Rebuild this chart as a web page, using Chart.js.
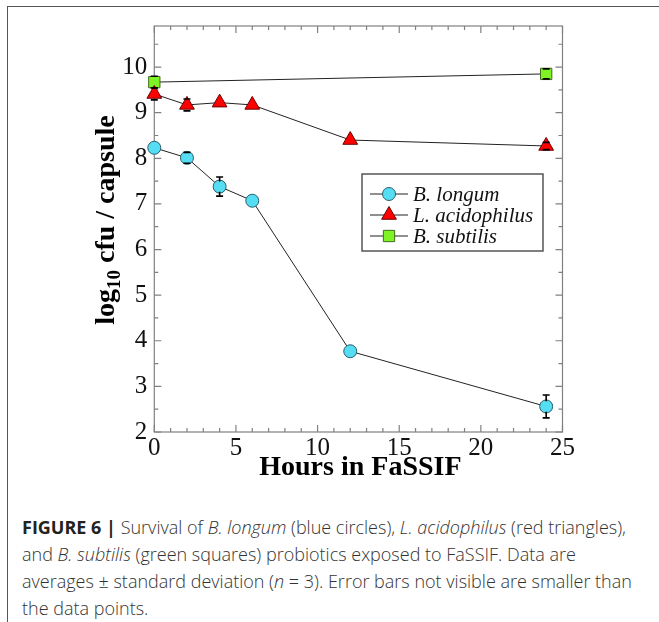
<!DOCTYPE html>
<html><head><meta charset="utf-8">
<script src="https://cdn.jsdelivr.net/npm/chart.js@4/dist/chart.umd.min.js"></script>
<style>
html,body{margin:0;padding:0;background:#fff;width:659px;height:622px;overflow:hidden;position:relative}
#frameTop{position:absolute;left:7px;top:6px;width:652px;height:0;border-top:1.5px solid #555}
#frameLeft{position:absolute;left:7px;top:6px;width:0;height:616px;border-left:1.5px solid #555}
#wrap{position:absolute;left:0;top:0;width:659px;height:500px}
#caption{position:absolute;left:22px;top:514px;width:640px;font-family:'Open Sans',sans-serif;font-weight:300;font-size:18px;line-height:27px;color:#333;white-space:nowrap}
#caption b{font-weight:700;color:#222}
</style></head>
<body>
<div id="frameTop"></div><div id="frameLeft"></div>
<div id="wrap"><canvas id="c" width="659" height="500"></canvas></div>
<div id="caption"><b>FIGURE 6 |</b> Survival of <i>B. longum</i> (blue circles), <i>L. acidophilus</i> (red triangles),<br>and <i>B. subtilis</i> (green squares) probiotics exposed to FaSSIF. Data are<br>averages ± standard deviation (<i>n</i> = 3). Error bars not visible are smaller than<br>the data points.</div>
<script>
// ---- data ----
const hours = [0, 2, 4, 6, 12, 24];
const longum = [8.23, 8.01, 7.38, 7.07, 3.77, 2.56];
const longumErr = [0, 0.12, 0.21, 0, 0, 0.25];
const acidophilus = [9.41, 9.17, 9.22, 9.17, 8.40, 8.27];
const acidophilusErr = [0.13, 0.13, 0, 0, 0, 0.08];
const subtilisHours = [0, 24];
const subtilis = [9.67, 9.85];
const subtilisErr = [0.13, 0.11];
const seriesNames = ['B. longum', 'L. acidophilus', 'B. subtilis'];
const xTicks = [0, 5, 10, 15, 20, 25];
const yTicks = [2, 3, 4, 5, 6, 7, 8, 9, 10];
const xTitle = 'Hours in FaSSIF';
const yTitleParts = ['log', '10', ' cfu / capsule'];

const toPts = (xs, ys) => xs.map((x, i) => ({x: x, y: ys[i]}));

const serif = "'Liberation Serif', 'Times New Roman', serif";

const errPlugin = {
  id: 'errbars',
  afterDatasetsDraw(chart) {
    const ctx = chart.ctx, xs = chart.scales.x, ys = chart.scales.y;
    ctx.save();
    ctx.strokeStyle = '#000'; ctx.lineWidth = 1.6;
    chart.data.datasets.forEach(ds => {
      ds.data.forEach((p, i) => {
        const e = ds.errors[i];
        if (!e) return;
        const px = xs.getPixelForValue(p.x);
        const pc = ys.getPixelForValue(p.y);
        const y1 = ys.getPixelForValue(p.y + e), y0 = ys.getPixelForValue(p.y - e);
        const half = ds.pointRadius * 0.8;
        ctx.beginPath();
        if (pc - y1 > half) { ctx.moveTo(px, y1); ctx.lineTo(px, pc - half); }
        if (y0 - pc > half) { ctx.moveTo(px, y0); ctx.lineTo(px, pc + half); }
        ctx.moveTo(px - 3.5, y1); ctx.lineTo(px + 3.5, y1);
        ctx.moveTo(px - 3.5, y0); ctx.lineTo(px + 3.5, y0);
        ctx.stroke();
      });
    });
    ctx.restore();
  }
};

const framePlugin = {
  id: 'frame',
  beforeDatasetsDraw(chart) {
    const ctx = chart.ctx, a = chart.chartArea, xs = chart.scales.x, ys = chart.scales.y;
    ctx.save();
    ctx.strokeStyle = '#808080'; ctx.lineWidth = 1.2;
    ctx.strokeRect(a.left, a.top, a.right - a.left, a.bottom - a.top);
    ctx.beginPath();
    for (let v = xs.min; v <= xs.max; v += 1) {
      const px = xs.getPixelForValue(v);
      const L = (v % 5 === 0) ? 7 : 4;
      ctx.moveTo(px, a.bottom); ctx.lineTo(px, a.bottom - L);
      ctx.moveTo(px, a.top); ctx.lineTo(px, a.top + L);
    }
    for (let v = ys.min; v <= ys.max + 1e-9; v += 0.5) {
      const py = ys.getPixelForValue(v);
      const L = (Math.abs(v - Math.round(v)) < 1e-9) ? 7 : 4;
      ctx.moveTo(a.left, py); ctx.lineTo(a.left + L, py);
      ctx.moveTo(a.right, py); ctx.lineTo(a.right - L, py);
    }
    ctx.stroke();
    ctx.restore();
  },
  afterDraw(chart) {
    const ctx = chart.ctx, a = chart.chartArea;
    ctx.save();
    ctx.fillStyle = '#000';
    // x title
    ctx.font = "bold 28px " + serif;
    ctx.textAlign = 'center'; ctx.textBaseline = 'middle';
    ctx.fillText(xTitle, (a.left + a.right) / 2 + 2, 468);
    // y title with subscript
    ctx.translate(104, 220);
    ctx.rotate(-Math.PI / 2);
    const big = "bold 28px " + serif, small = "bold 19px " + serif;
    ctx.font = big; const w0 = ctx.measureText(yTitleParts[0]).width;
    ctx.font = small; const w1 = ctx.measureText(yTitleParts[1]).width;
    ctx.font = big; const w2 = ctx.measureText(yTitleParts[2]).width;
    let x = -(w0 + w1 + w2) / 2;
    ctx.textAlign = 'left'; ctx.textBaseline = 'alphabetic';
    ctx.font = big; ctx.fillText(yTitleParts[0], x, 10); x += w0;
    ctx.font = small; ctx.fillText(yTitleParts[1], x, 16); x += w1;
    ctx.font = big; ctx.fillText(yTitleParts[2], x, 10);
    ctx.restore();

    // legend
    ctx.save();
    const bx = 362, by = 174, bw = 181, bh = 77;
    ctx.fillStyle = '#fff'; ctx.fillRect(bx, by, bw, bh);
    ctx.strokeStyle = '#555'; ctx.lineWidth = 1.5; ctx.strokeRect(bx, by, bw, bh);
    const rows = [194, 215, 236];
    chart.data.datasets.forEach((ds, i) => {
      const yy = rows[i];
      ctx.strokeStyle = '#222'; ctx.lineWidth = 1;
      ctx.beginPath(); ctx.moveTo(370, yy); ctx.lineTo(408, yy); ctx.stroke();
      ctx.fillStyle = ds.pointBackgroundColor; ctx.strokeStyle = ds.pointBorderColor; ctx.lineWidth = 1;
      Chart.helpers.drawPoint(ctx, {pointStyle: ds.pointStyle, radius: ds.pointRadius, borderWidth: 1}, 389, yy);
      ctx.fillStyle = '#111';
      ctx.font = "italic 21px " + serif;
      ctx.textAlign = 'left'; ctx.textBaseline = 'middle';
      ctx.fillText(ds.label, 413, yy + 1);
    });
    ctx.restore();
  }
};

const mk = (label, pts, errs, style, r, fill, border) => ({
  label: label, data: pts, errors: errs, clip: false,
  showLine: true, borderColor: '#222', borderWidth: 1,
  pointStyle: style, pointRadius: r, pointHoverRadius: r,
  pointBackgroundColor: fill, pointBorderColor: border, pointBorderWidth: 1,
  tension: 0
});

new Chart(document.getElementById('c'), {
  type: 'scatter',
  data: {
    datasets: [
      mk(seriesNames[0], toPts(hours, longum), longumErr, 'circle', 6.5, '#55ddf3', '#2d5c6a'),
      mk(seriesNames[1], toPts(hours, acidophilus), acidophilusErr, 'triangle', 8.5, '#ff0000', '#6a0000'),
      mk(seriesNames[2], toPts(subtilisHours, subtilis), subtilisErr, 'rect', 8, '#7ff225', '#3f6a20')
    ]
  },
  options: {
    responsive: false, animation: false,
    layout: {padding: {left: 0, top: 26, right: 96.5, bottom: 0}},
    plugins: {legend: {display: false}, tooltip: {enabled: false}},
    scales: {
      x: {
        type: 'linear', min: 0, max: 25,
        afterBuildTicks: s => { s.ticks = xTicks.map(v => ({value: v})); },
        afterFit: s => { s.height = 68; },
        grid: {display: false, drawTicks: false}, border: {display: false},
        ticks: {padding: 1, color: '#111', font: {family: serif, size: 25}, maxRotation: 0}
      },
      y: {
        type: 'linear', min: 2, max: 10.9,
        afterBuildTicks: s => { s.ticks = yTicks.map(v => ({value: v})); },
        afterFit: s => { s.width = 154.3; },
        grid: {display: false, drawTicks: false}, border: {display: false},
        ticks: {padding: 7, color: '#111', font: {family: serif, size: 25}}
      }
    }
  },
  plugins: [framePlugin, errPlugin]
});
</script>
</body></html>
